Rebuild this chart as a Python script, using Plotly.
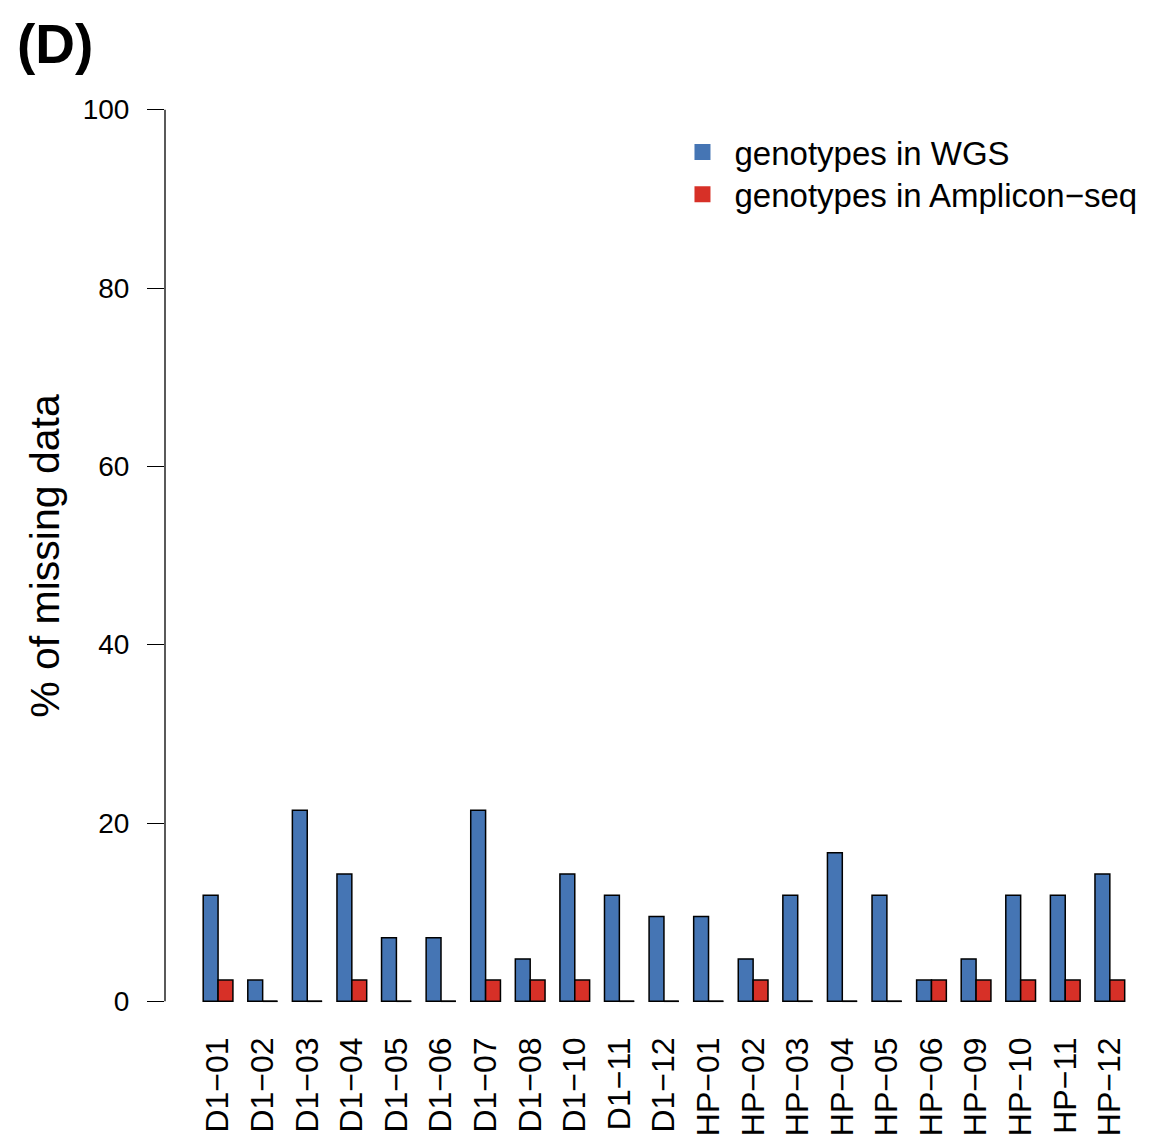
import plotly.graph_objects as go

samples = ["D1−01", "D1−02", "D1−03", "D1−04", "D1−05", "D1−06", "D1−07", "D1−08",
           "D1−10", "D1−11", "D1−12", "HP−01", "HP−02", "HP−03", "HP−04", "HP−05",
           "HP−06", "HP−09", "HP−10", "HP−11", "HP−12"]
wgs = [11.9, 2.38, 21.43, 14.29, 7.14, 7.14, 21.43, 4.76, 14.29, 11.9, 9.52,
       9.52, 4.76, 11.9, 16.67, 11.9, 2.38, 4.76, 11.9, 11.9, 14.29]
amplicon = [2.38, 0, 0, 2.38, 0, 0, 2.38, 2.38, 2.38, 0, 0,
            0, 2.38, 0, 0, 0, 2.38, 2.38, 2.38, 2.38, 2.38]
y_ticks = [0, 20, 40, 60, 80, 100]
series_names = ["genotypes in WGS", "genotypes in Amplicon−seq"]

BLUE = "#4575B4"
RED = "#D73027"
FONT = "Liberation Sans, Arial, Helvetica, sans-serif"
LW = 1.5

x_idx = list(range(len(samples)))

fig = go.Figure()
fig.add_trace(go.Bar(x=x_idx, y=wgs, name=series_names[0],
                     marker=dict(color=BLUE, line=dict(color="black", width=LW)), showlegend=False))
fig.add_trace(go.Bar(x=x_idx, y=amplicon, name=series_names[1],
                     marker=dict(color=RED, line=dict(color="black", width=LW)), showlegend=False))
# legend entries (borderless squares as in reference), each in its own legend box
for k, (nm, col) in enumerate(zip(series_names, [BLUE, RED])):
    fig.add_trace(go.Scatter(x=[None], y=[None], mode="markers", name=nm,
                             legend="legend" if k == 0 else "legend2",
                             marker=dict(symbol="square", size=16, color=col)))

shapes = []
# zero-height bars are drawn as a baseline stroke
for i, v in enumerate(amplicon):
    if v == 0:
        shapes.append(dict(type="line", xref="x", yref="y", x0=i, x1=i + 1/3, y0=0, y1=0,
                           line=dict(color="black", width=LW)))
for i, v in enumerate(wgs):
    if v == 0:
        shapes.append(dict(type="line", xref="x", yref="y", x0=i - 1/3, x1=i, y0=0, y1=0,
                           line=dict(color="black", width=LW)))
# y axis line spanning 0..100 only
shapes.append(dict(type="line", xref="paper", yref="y", x0=0, x1=0, y0=y_ticks[0], y1=y_ticks[-1],
                   line=dict(color="black", width=1.3)))

leg_common = dict(xanchor="left", yanchor="middle", font=dict(size=33),
                  bgcolor="rgba(0,0,0,0)", borderwidth=0, itemwidth=54)

fig.update_layout(
    width=1173, height=1141,
    margin=dict(l=165, r=11, t=74, b=104, autoexpand=False),
    plot_bgcolor="white", paper_bgcolor="white",
    font=dict(family=FONT, color="black"),
    barmode="group", bargap=1/3, bargroupgap=0,
    shapes=shapes,
    showlegend=True,
    legend=dict(x=0.507, y=0.919, **leg_common),
    legend2=dict(x=0.507, y=0.875, **leg_common),
    annotations=[
        dict(text="<b>(D)</b>", xref="paper", yref="paper", x=-0.150, y=1.031, xanchor="left",
             yanchor="middle", showarrow=False, font=dict(size=55, family=FONT)),
        dict(text="% of missing data", xref="paper", yref="y", x=-0.121, y=50, xanchor="center",
             yanchor="middle", textangle=-90, showarrow=False, font=dict(size=41, family=FONT)),
    ],
)
fig.update_xaxes(range=[-1.19, 21.17], tickmode="array", tickvals=x_idx, ticktext=samples,
                 tickangle=-90, tickfont=dict(size=32), showline=False, showgrid=False,
                 zeroline=False, ticks="", automargin=False, ticklabelstandoff=-7)
fig.update_yaxes(range=[-4, 104], tickvals=y_ticks, ticks="outside", ticklen=17, tickwidth=1.3,
                 tickcolor="black", tickfont=dict(size=28), showline=False, showgrid=False,
                 zeroline=False, ticklabelstandoff=12, automargin=False)

fig.write_html("out.html", config={"displayModeBar": False},
               post_script="document.body.style.margin='0px';document.body.style.overflow='hidden';")
